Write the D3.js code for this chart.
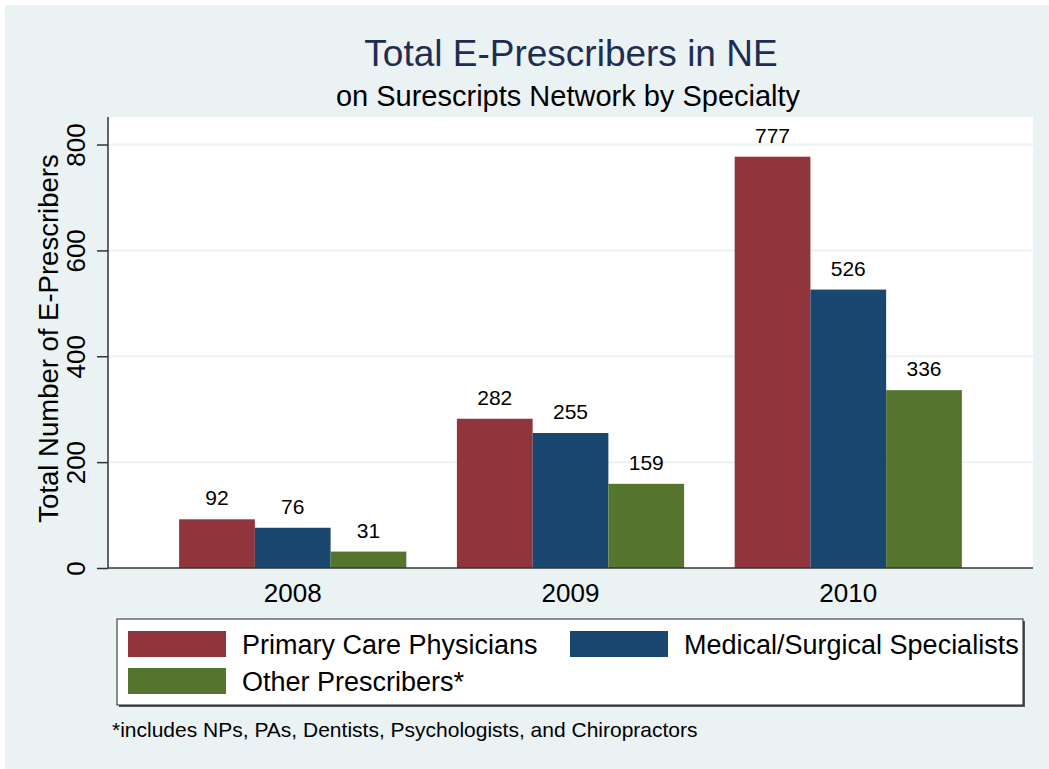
<!DOCTYPE html>
<html>
<head>
<meta charset="utf-8">
<script src="https://cdn.jsdelivr.net/npm/d3@7"></script>
<style>
  html, body { margin: 0; padding: 0; background: #fff; }
  svg { display: block; font-family: Arial, "Liberation Sans", sans-serif; }
</style>
</head>
<body>
<div id="display"></div>
<script>
// chart data
var years = ["2008", "2009", "2010"];
var seriesNames = ["Primary Care Physicians", "Medical/Surgical Specialists", "Other Prescribers*"];
var primaryCare = [92, 282, 777];
var specialists = [76, 255, 526];
var otherPrescribers = [31, 159, 336];
var yTicks = [0, 200, 400, 600, 800];
var seriesColors = ["#90353b", "#1a476f", "#55752f"];

var W = 1049, H = 769;
var plot = { left: 108, right: 1033, top: 117, bottom: 568 };

// build rows from the arrays
var data = years.map(function (y, i) {
  return {
    year: y,
    values: [
      { name: seriesNames[0], value: primaryCare[i] },
      { name: seriesNames[1], value: specialists[i] },
      { name: seriesNames[2], value: otherPrescribers[i] }
    ]
  };
});

var svg = d3.select("#display").append("svg")
  .attr("width", W)
  .attr("height", H);

// graph region background
svg.append("rect")
  .attr("x", 5).attr("y", 5)
  .attr("width", W - 5).attr("height", H - 5)
  .attr("fill", "#eaf2f3");

// plot region
svg.append("rect")
  .attr("x", plot.left).attr("y", plot.top)
  .attr("width", plot.right - plot.left)
  .attr("height", plot.bottom - plot.top)
  .attr("fill", "#fff");

var x0 = d3.scaleBand()
  .domain(years)
  .range([plot.left, plot.right])
  .paddingInner(0.182)
  .paddingOuter(0.256);

var x1 = d3.scaleBand()
  .domain(seriesNames)
  .range([0, x0.bandwidth()]);

var color = d3.scaleOrdinal().domain(seriesNames).range(seriesColors);

var y = d3.scaleLinear()
  .domain([0, 852])
  .range([plot.bottom, plot.top]);

// gridlines
svg.append("g")
  .selectAll("line")
  .data(yTicks.filter(function (d) { return d > 0; }))
  .enter().append("line")
  .attr("x1", plot.left).attr("x2", plot.right)
  .attr("y1", function (d) { return y(d); })
  .attr("y2", function (d) { return y(d); })
  .attr("stroke", "#eaf2f3")
  .attr("stroke-width", 2);

// bars
var groups = svg.append("g")
  .selectAll("g")
  .data(data)
  .enter().append("g")
  .attr("transform", function (d) { return "translate(" + x0(d.year) + ",0)"; });

groups.selectAll("rect")
  .data(function (d) { return d.values; })
  .enter().append("rect")
  .attr("x", function (d) { return x1(d.name); })
  .attr("y", function (d) { return y(d.value); })
  .attr("width", x1.bandwidth())
  .attr("height", function (d) { return y(0) - y(d.value); })
  .attr("fill", function (d) { return color(d.name); });

groups.selectAll("text")
  .data(function (d) { return d.values; })
  .enter().append("text")
  .attr("x", function (d) { return x1(d.name) + x1.bandwidth() / 2; })
  .attr("y", function (d) { return y(d.value) - 14; })
  .attr("text-anchor", "middle")
  .attr("font-size", 21)
  .attr("fill", "#000")
  .text(function (d) { return d.value; });

// y axis
var yaxis = svg.append("g")
  .attr("transform", "translate(" + plot.left + ",0)")
  .call(d3.axisLeft(y).tickValues(yTicks).tickSize(11).tickSizeOuter(0));
yaxis.select(".domain").remove();
yaxis.append("line")
  .attr("x1", 0).attr("x2", 0)
  .attr("y1", plot.top).attr("y2", plot.bottom)
  .attr("stroke", "#333").attr("stroke-width", 1.5);
yaxis.selectAll(".tick line").attr("stroke", "#333").attr("stroke-width", 1.5);
yaxis.selectAll(".tick text")
  .attr("font-size", 26)
  .attr("fill", "#000")
  .attr("font-family", "Arial, 'Liberation Sans', sans-serif")
  .attr("x", null).attr("dy", null)
  .attr("text-anchor", "middle")
  .attr("transform", "translate(-23,0) rotate(-90)");

// x axis
var xaxis = svg.append("g")
  .attr("transform", "translate(0," + plot.bottom + ")")
  .call(d3.axisBottom(x0).tickSize(0));
xaxis.select(".domain").remove();
xaxis.append("line")
  .attr("x1", plot.left).attr("x2", plot.right)
  .attr("stroke", "#333").attr("stroke-width", 1.5);
xaxis.selectAll(".tick text")
  .attr("font-size", 26)
  .attr("fill", "#000")
  .attr("font-family", "Arial, 'Liberation Sans', sans-serif")
  .attr("dy", null)
  .attr("y", 34);

// axis title
svg.append("text")
  .attr("transform", "translate(58," + ((plot.top + plot.bottom) / 2 - 4) + ") rotate(-90)")
  .attr("text-anchor", "middle")
  .attr("font-size", 27.5)
  .attr("fill", "#000")
  .text("Total Number of E-Prescribers");

// titles
svg.append("text")
  .attr("x", 571).attr("y", 66)
  .attr("text-anchor", "middle")
  .attr("font-size", 37)
  .attr("fill", "#1e2d53")
  .text("Total E-Prescribers in NE");

svg.append("text")
  .attr("x", 568).attr("y", 106)
  .attr("text-anchor", "middle")
  .attr("font-size", 29)
  .attr("fill", "#000")
  .text("on Surescripts Network by Specialty");

// legend
var legend = svg.append("g");
legend.append("rect")
  .attr("x", 119).attr("y", 621)
  .attr("width", 906).attr("height", 86)
  .attr("fill", "#555");
legend.append("rect")
  .attr("x", 117).attr("y", 619)
  .attr("width", 906).attr("height", 86)
  .attr("fill", "#fff")
  .attr("stroke", "#222")
  .attr("stroke-width", 1);

var legendPos = [
  { x: 128, y: 631 },
  { x: 570, y: 631 },
  { x: 128, y: 668 }
];
var items = legend.selectAll("g.item")
  .data(seriesNames)
  .enter().append("g")
  .attr("class", "item")
  .attr("transform", function (d, i) { return "translate(" + legendPos[i].x + "," + legendPos[i].y + ")"; });
items.append("rect")
  .attr("width", 98).attr("height", 26)
  .attr("fill", function (d) { return color(d); });
items.append("text")
  .attr("x", 114).attr("y", 23)
  .attr("font-size", 27)
  .attr("fill", "#000")
  .text(function (d) { return d; });

// note
svg.append("text")
  .attr("x", 112).attr("y", 737)
  .attr("font-size", 21)
  .attr("fill", "#000")
  .text("*includes NPs, PAs, Dentists, Psychologists, and Chiropractors");
</script>
</body>
</html>
